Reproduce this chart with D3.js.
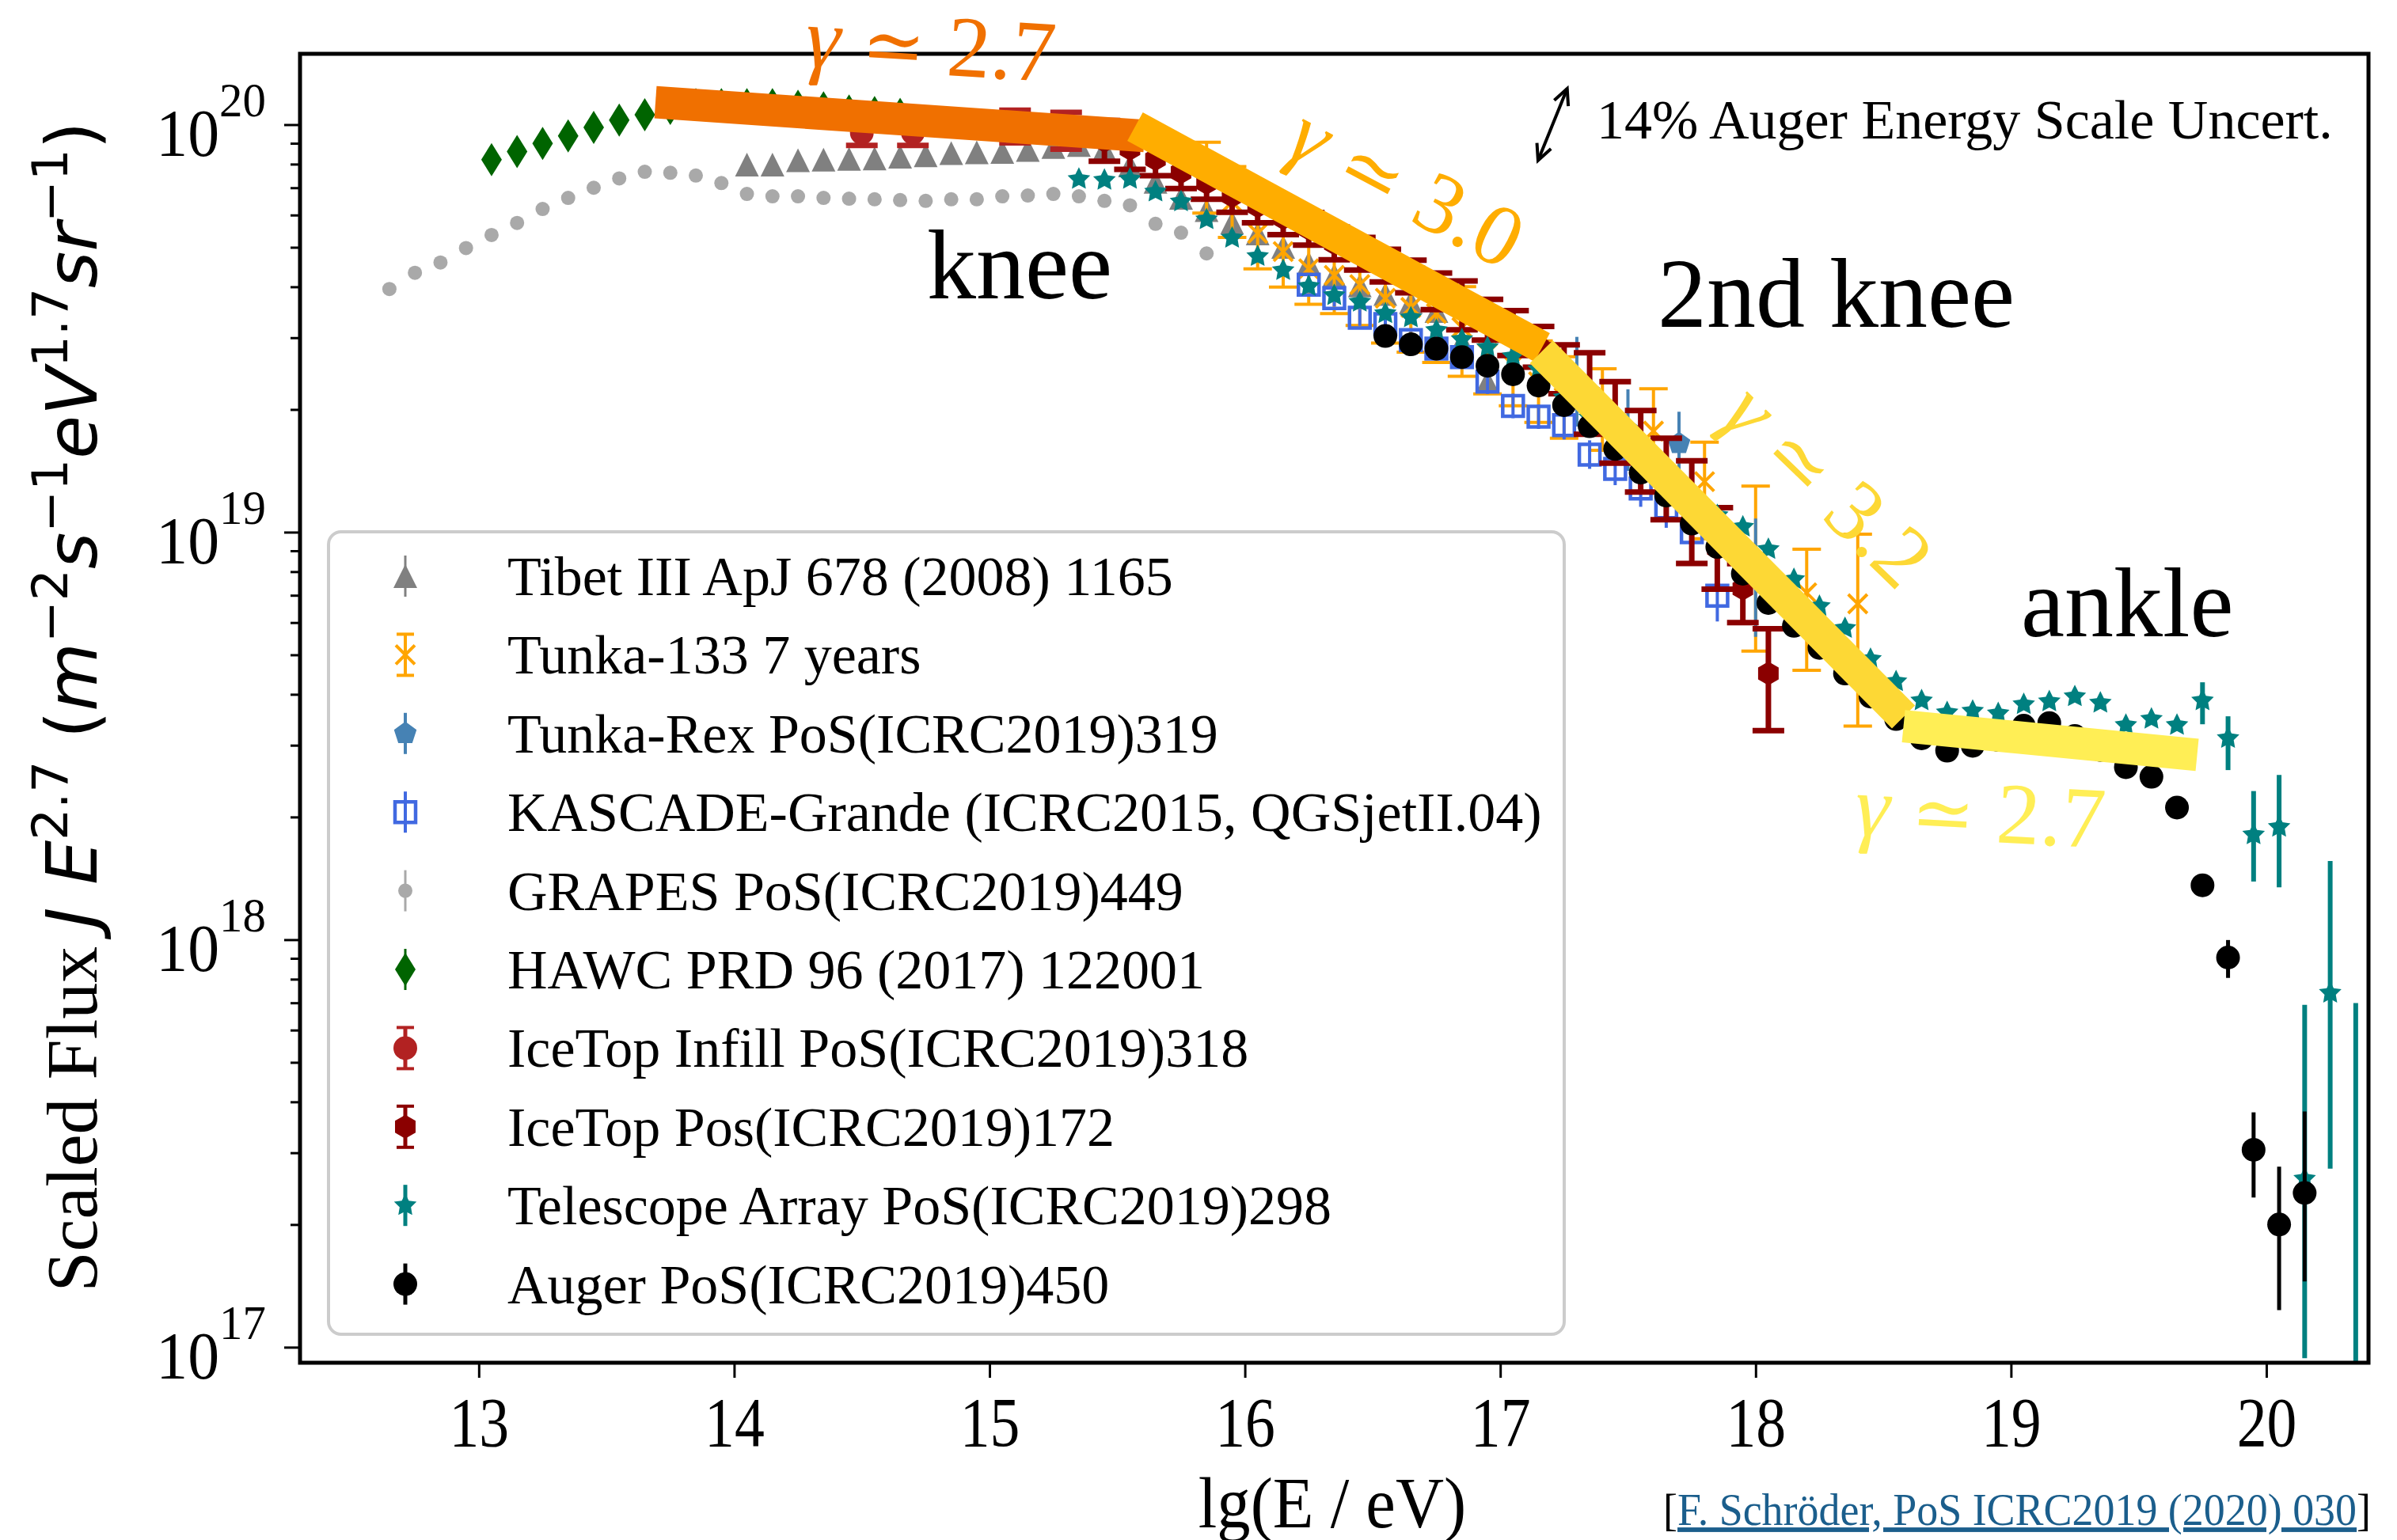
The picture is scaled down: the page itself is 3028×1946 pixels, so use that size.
<!DOCTYPE html>
<html>
<head>
<meta charset="utf-8">
<script src="https://cdn.jsdelivr.net/npm/d3@7"></script>
<style>
  body { margin: 0; background: #fff; }
  svg { display: block; }
</style>
</head>
<body>
<svg id="chart" width="3028" height="1946"></svg>
<script>
// ---- data: lg(E/eV) and scaled flux J E^2.7, errors in dex (down, up) ----
var xTicks = [13, 14, 15, 16, 17, 18, 19, 20];
var yMajor = [1e17, 1e18, 1e19, 1e20];

var tibetE = [14.05,14.15,14.25,14.35,14.45,14.55,14.65,14.75,14.85,14.95,15.05,15.15,15.25,15.35,15.45,15.55,15.65,15.75,15.85,15.95,16.05,16.15,16.25,16.35,16.45,16.55,16.65,16.75,16.85,16.95];
var tibetJ = [7.98e19,7.98e19,8.18e19,8.20e19,8.24e19,8.26e19,8.34e19,8.41e19,8.51e19,8.55e19,8.57e19,8.67e19,8.81e19,8.91e19,8.71e19,7.94e19,7.24e19,6.61e19,6.17e19,5.75e19,5.41e19,5.01e19,4.57e19,4.27e19,4.03e19,3.84e19,3.67e19,3.49e19,2.94e19,2.34e19];

var tunkaE = [15.85,15.95,16.05,16.15,16.25,16.35,16.45,16.55,16.65,16.75,16.85,16.95,17.05,17.15,17.25,17.4,17.6,17.8,18.0,18.2,18.4];
var tunkaJ = [7.41e19,6.46e19,5.41e19,4.88e19,4.43e19,4.27e19,4.05e19,3.75e19,3.56e19,3.44e19,3.18e19,2.75e19,2.57e19,2.34e19,2.14e19,2.00e19,1.77e19,1.33e19,8.09e18,7.10e18,6.67e18];
var tunkaDn = [0.087,0.087,0.087,0.087,0.087,0.094,0.10,0.11,0.11,0.12,0.12,0.10,0.10,0.10,0.10,0.10,0.12,0.14,0.20,0.19,0.30];
var tunkaUp = [0.087,0.087,0.087,0.087,0.087,0.094,0.10,0.10,0.10,0.10,0.10,0.10,0.10,0.10,0.10,0.10,0.104,0.097,0.205,0.107,0.171];

var rexE = [17.3, 17.5, 17.7, 18.0];
var rexJ = [2.34e19, 1.78e19, 1.65e19, 7.73e18];
var rexDn = [0.11, 0.10, 0.09, 0.145];
var rexUp = [0.11, 0.10, 0.078, 0.145];

var kascadeE = [16.25,16.35,16.45,16.55,16.65,16.75,16.85,16.95,17.05,17.15,17.25,17.35,17.45,17.55,17.65,17.75,17.85];
var kascadeJ = [4.05e19,3.75e19,3.36e19,3.24e19,2.96e19,2.82e19,2.69e19,2.34e19,2.04e19,1.92e19,1.83e19,1.55e19,1.43e19,1.28e19,1.15e19,1.00e19,6.98e18];
var kascadeErr = [0.02,0.02,0.02,0.02,0.02,0.025,0.025,0.03,0.03,0.03,0.035,0.035,0.04,0.045,0.05,0.05,0.063];

var grapesE = [12.65,12.75,12.85,12.95,13.05,13.15,13.25,13.35,13.45,13.55,13.65,13.75,13.85,13.95,14.05,14.15,14.25,14.35,14.45,14.55,14.65,14.75,14.85,14.95,15.05,15.15,15.25,15.35,15.45,15.55,15.65,15.75,15.85];
var grapesJ = [3.95e19,4.33e19,4.59e19,4.98e19,5.36e19,5.74e19,6.21e19,6.61e19,7.00e19,7.38e19,7.66e19,7.62e19,7.50e19,7.19e19,6.76e19,6.67e19,6.67e19,6.61e19,6.58e19,6.56e19,6.53e19,6.50e19,6.56e19,6.56e19,6.67e19,6.70e19,6.76e19,6.67e19,6.50e19,6.34e19,5.71e19,5.43e19,4.83e19];

var hawcE = [13.05,13.15,13.25,13.35,13.45,13.55,13.65,13.75,13.85,13.95,14.05,14.15,14.25,14.35,14.45,14.55,14.65];
var hawcJ = [8.20e19,8.59e19,8.99e19,9.38e19,9.84e19,1.026e20,1.057e20,1.096e20,1.12e20,1.12e20,1.12e20,1.12e20,1.11e20,1.10e20,1.08e20,1.07e20,1.06e20];

var infillE = [14.5, 14.7, 15.1, 15.3];
var infillJ = [9.55e19, 9.55e19, 9.89e19, 9.66e19];
var infillErr = [0.031, 0.031, 0.04, 0.045];

var icetopE = [15.45,15.55,15.65,15.75,15.85,15.95,16.05,16.15,16.25,16.35,16.45,16.55,16.65,16.75,16.85,16.95,17.05,17.15,17.25,17.35,17.45,17.55,17.65,17.75,17.85,17.95,18.05];
var icetopJ = [9.12e19,8.71e19,8.22e19,7.64e19,7.19e19,6.68e19,6.30e19,5.89e19,5.55e19,5.11e19,4.82e19,4.51e19,4.24e19,3.90e19,3.60e19,3.32e19,3.08e19,2.85e19,2.51e19,2.19e19,1.86e19,1.58e19,1.35e19,1.12e19,9.12e18,7.26e18,4.50e18];
var icetopDn = [0.05,0.05,0.04,0.04,0.04,0.04,0.04,0.04,0.04,0.04,0.04,0.04,0.04,0.045,0.06,0.05,0.055,0.05,0.06,0.10,0.10,0.10,0.10,0.126,0.10,0.083,0.14];
var icetopUp = [0.05,0.05,0.04,0.04,0.04,0.04,0.04,0.04,0.04,0.04,0.04,0.04,0.04,0.045,0.06,0.05,0.055,0.05,0.06,0.10,0.10,0.10,0.10,0.126,0.10,0.062,0.11];

var taE = [15.35,15.45,15.55,15.65,15.75,15.85,15.95,16.05,16.15,16.25,16.35,16.45,16.55,16.65,16.75,16.85,16.95,17.05,17.15,17.25,17.35,17.45,17.55,17.65,17.75,17.85,17.95,18.05,18.15,18.25,18.35,18.45,18.55,18.65,18.75,18.85,18.95,19.05,19.15,19.25,19.35,19.45,19.55,19.65,19.75,19.85,19.95,20.05,20.15,20.25,20.35];
var taJ = [7.35e19,7.31e19,7.35e19,6.84e19,6.47e19,5.85e19,5.27e19,4.75e19,4.39e19,4.01e19,3.81e19,3.67e19,3.44e19,3.36e19,3.13e19,2.97e19,2.84e19,2.70e19,2.51e19,2.14e19,1.91e19,1.70e19,1.48e19,1.32e19,1.17e19,1.10e19,1.03e19,9.08e18,7.66e18,6.58e18,5.81e18,4.88e18,4.30e18,3.86e18,3.61e18,3.64e18,3.59e18,3.78e18,3.84e18,3.95e18,3.81e18,3.36e18,3.48e18,3.36e18,3.86e18,3.12e18,1.81e18,1.89e18,2.59e17,7.40e17,6.3e16];
var taDn = [0,0,0,0,0,0,0,0,0,0,0,0,0,0,0,0,0,0,0,0,0,0,0,0,0,0,0,0,0,0,0,0,0,0,0,0,0,0,0,0,0,0,0,0,0.058,0.078,0.115,0.148,0.44,0.431,1.0];
var taUp = [0,0,0,0,0,0,0,0,0,0,0,0,0,0,0,0,0,0,0,0,0,0,0,0,0,0,0,0,0,0,0,0,0,0,0,0,0,0,0,0,0,0,0,0,0.045,0.054,0.107,0.128,0.427,0.324,1.045];

var augerE = [16.55,16.65,16.75,16.85,16.95,17.05,17.15,17.25,17.35,17.45,17.55,17.65,17.75,17.85,17.95,18.05,18.15,18.25,18.35,18.45,18.55,18.65,18.75,18.85,18.95,19.05,19.15,19.25,19.35,19.45,19.55,19.65,19.75,19.85,19.95,20.05,20.15];
var augerJ = [3.03e19,2.89e19,2.82e19,2.69e19,2.56e19,2.44e19,2.29e19,2.05e19,1.82e19,1.60e19,1.40e19,1.23e19,1.05e19,9.20e18,7.91e18,6.70e18,5.89e18,5.20e18,4.50e18,3.95e18,3.48e18,3.12e18,2.91e18,2.99e18,3.09e18,3.35e18,3.40e18,3.16e18,2.92e18,2.65e18,2.51e18,2.11e18,1.36e18,9.04e17,3.05e17,2.00e17,2.39e17];
var augerDn = [0,0,0,0,0,0,0,0,0,0,0,0,0,0,0,0,0,0,0,0,0,0,0,0,0,0,0,0,0,0,0,0,0,0.05,0.117,0.21,0.217];
var augerUp = [0,0,0,0,0,0,0,0,0,0,0,0,0,0,0,0,0,0,0,0,0,0,0,0,0,0,0,0,0,0,0,0,0,0.043,0.092,0.142,0.2];

// broken power-law bands drawn on top (lg E, flux at the two ends)
var bandE = [[13.692, 15.607], [15.570, 17.164], [17.161, 18.579], [18.579, 19.729]];
var bandJ = [[1.135e20, 9.38e19], [9.89e19, 2.84e19], [2.77e19, 3.52e18], [3.34e18, 2.84e18]];
var bandColors = ["#f07000", "#ffad00", "#fdd835", "#ffee55"];

// 14% energy scale uncertainty arrow
var arrowE = [17.148, 17.262];
var arrowJ = [8.17e19, 1.225e20];

// ---- layout ----
var W = 3028, H = 1946;
var plotL = 379, plotR = 2992, plotT = 68, plotB = 1722;
var serif = "Liberation Serif, Times New Roman, serif";

var x = d3.scaleLinear().domain([12.30, 20.40]).range([plotL, plotR]);
var y = d3.scaleLog().domain([9.16e16, 1.492e20]).range([plotB, plotT]);

var svg = d3.select("#chart");
svg.append("rect").attr("width", W).attr("height", H).attr("fill", "#fff");

svg.append("clipPath").attr("id", "plotclip")
  .append("rect").attr("x", plotL).attr("y", plotT).attr("width", plotR - plotL).attr("height", plotB - plotT);

// marker shapes
function poly(n, r, rot) {
  var p = [];
  for (var i = 0; i < n; i++) {
    var a = (rot + 360 / n * i) * Math.PI / 180;
    p.push([r * Math.cos(a), r * Math.sin(a)]);
  }
  return "M" + p.join("L") + "Z";
}
function star(r) {
  var p = [];
  for (var i = 0; i < 10; i++) {
    var a = (-90 + 36 * i) * Math.PI / 180, rr = i % 2 ? r * 0.5 : r;
    p.push([rr * Math.cos(a), rr * Math.sin(a)]);
  }
  return "M" + p.join("L") + "Z";
}
var shapes = {
  tri: "M0,-15L15,15L-15,15Z",
  dia: "M0,-21L13,0L0,21L-13,0Z",
  square: "M-13,-13H13V13H-13Z",
  star: star(15),
  pent: poly(5, 15, -90),
  hex: poly(6, 15, -90),
  cross: "M-12,-12L12,12M12,-12L-12,12",
  circle: null
};

function pts(E, J, dn, up) {
  return E.map(function(e, i) {
    var d = dn == null ? 0 : (typeof dn === "number" ? dn : dn[i]);
    var u = up == null ? d : (typeof up === "number" ? up : up[i]);
    return {e: e, j: J[i], dn: d, up: u};
  });
}

var series = [
  {label: "Tibet III ApJ 678 (2008) 1165", data: pts(tibetE, tibetJ), color: "#808080", shape: "tri", lw: 3, cap: 0},
  {label: "Tunka-133 7 years", data: pts(tunkaE, tunkaJ, tunkaDn, tunkaUp), color: "#ffa500", shape: "cross", lw: 4, cap: 18},
  {label: "Tunka-Rex PoS(ICRC2019)319", data: pts(rexE, rexJ, rexDn, rexUp), color: "#4682b4", shape: "pent", lw: 4, cap: 0},
  {label: "KASCADE-Grande (ICRC2015, QGSjetII.04)", data: pts(kascadeE, kascadeJ, kascadeErr), color: "#4169e1", shape: "square", open: true, lw: 4, cap: 0},
  {label: "GRAPES PoS(ICRC2019)449", data: pts(grapesE, grapesJ), color: "#a9a9a9", shape: "circle", r: 9, lw: 3, cap: 0},
  {label: "HAWC PRD 96 (2017) 122001", data: pts(hawcE, hawcJ), color: "#006400", shape: "dia", lw: 3, cap: 0},
  {label: "IceTop Infill PoS(ICRC2019)318", data: pts(infillE, infillJ, infillErr), color: "#b22222", shape: "circle", r: 15, lw: 7, cap: 20},
  {label: "IceTop Pos(ICRC2019)172", data: pts(icetopE, icetopJ, icetopDn, icetopUp), color: "#8b0000", shape: "hex", lw: 7, cap: 20},
  {label: "Telescope Array PoS(ICRC2019)298", data: pts(taE, taJ, taDn, taUp), color: "#008080", shape: "star", lw: 6, cap: 0},
  {label: "Auger PoS(ICRC2019)450", data: pts(augerE, augerJ, augerDn, augerUp), color: "#000000", shape: "circle", r: 15, lw: 5, cap: 0}
];

function drawMarker(g, s) {
  if (s.shape === "circle") {
    g.append("circle").attr("r", s.r).attr("fill", s.color);
  } else if (s.shape === "cross") {
    g.append("path").attr("d", shapes.cross).attr("stroke", s.color).attr("stroke-width", 4).attr("fill", "none");
  } else if (s.open) {
    g.append("path").attr("d", shapes[s.shape]).attr("fill", "none").attr("stroke", s.color).attr("stroke-width", 4.5);
  } else {
    g.append("path").attr("d", shapes[s.shape]).attr("fill", s.color);
  }
}

// ---- axes ----
var gx = svg.append("g").attr("transform", "translate(0," + plotB + ")")
  .call(d3.axisBottom(x).tickValues(xTicks).tickSize(19).tickFormat(d3.format("d")));
gx.select(".domain").remove();
gx.selectAll(".tick line").attr("stroke", "#000").attr("stroke-width", 3);
gx.selectAll(".tick text")
  .attr("y", 105).attr("dy", null)
  .attr("font-family", serif).attr("font-size", 88).attr("fill", "#000")
  .attr("transform", "scale(0.86,1)");

function isDecade(v) {
  var l = Math.log10(v);
  return Math.abs(l - Math.round(l)) < 1e-6;
}
var yMinor = y.ticks().filter(function(v) { return !isDecade(v); });

var gyMinor = svg.append("g").attr("transform", "translate(" + plotL + ",0)")
  .call(d3.axisLeft(y).tickValues(yMinor).tickSize(12).tickFormat(""));
gyMinor.select(".domain").remove();
gyMinor.selectAll(".tick line").attr("stroke", "#000").attr("stroke-width", 3);

var gyMajor = svg.append("g").attr("transform", "translate(" + plotL + ",0)")
  .call(d3.axisLeft(y).tickValues(yMajor).tickSize(20).tickFormat(""));
gyMajor.select(".domain").remove();
gyMajor.selectAll(".tick line").attr("stroke", "#000").attr("stroke-width", 3);

yMajor.forEach(function(v) {
  var t = svg.append("text")
    .attr("transform", "translate(336," + y(v) + ") scale(0.95,1)")
    .attr("text-anchor", "end").attr("font-family", serif).attr("fill", "#000");
  t.append("tspan").attr("font-size", 84).attr("dy", 40).text("10");
  t.append("tspan").attr("font-size", 62).attr("dy", -50).text(Math.round(Math.log10(v)));
});

// y label: serif words + mathtext-like part
var yl = svg.append("text")
  .attr("transform", "translate(122,893) rotate(-90)")
  .attr("text-anchor", "middle").attr("fill", "#000").attr("font-size", 89);
yl.append("tspan").attr("font-family", serif).attr("font-size", 92).text("Scaled Flux ");
var mathParts = [
  ["J E", "italic", 0], ["2.7", "normal", 1], [" (", "normal", 0], ["m", "italic", 0],
  ["\u22122", "normal", 1], ["s", "italic", 0], ["\u22121", "normal", 1], ["eV", "italic", 0],
  ["1.7", "normal", 1], ["sr", "italic", 0], ["\u22121", "normal", 1], [")", "normal", 0]
];
var lift = 0;
mathParts.forEach(function(p) {
  var target = p[2] ? -37 : 0;
  yl.append("tspan")
    .attr("font-family", "DejaVu Sans, sans-serif")
    .attr("font-style", p[1])
    .attr("font-size", p[2] ? 63 : 89)
    .attr("dy", target - lift)
    .text(p[0]);
  lift = target;
});

svg.append("text").attr("x", 1683).attr("y", 1930)
  .attr("text-anchor", "middle").attr("font-family", serif).attr("font-size", 92)
  .attr("transform", "translate(1683,0) scale(0.92,1) translate(-1683,0)")
  .text("lg(E / eV)");

// ---- data ----
var plot = svg.append("g").attr("clip-path", "url(#plotclip)");
series.forEach(function(s) {
  var g = plot.append("g");
  s.data.forEach(function(d) {
    if (d.dn > 0 || d.up > 0) {
      var y0 = y(d.j / Math.pow(10, d.dn)), y1 = y(d.j * Math.pow(10, d.up));
      g.append("line").attr("x1", x(d.e)).attr("x2", x(d.e)).attr("y1", y0).attr("y2", y1)
        .attr("stroke", s.color).attr("stroke-width", s.lw);
      if (s.cap) {
        [y0, y1].forEach(function(yy) {
          g.append("line").attr("x1", x(d.e) - s.cap).attr("x2", x(d.e) + s.cap)
            .attr("y1", yy).attr("y2", yy).attr("stroke", s.color).attr("stroke-width", s.lw);
        });
      }
    }
  });
  s.data.forEach(function(d) {
    var m = g.append("g").attr("transform", "translate(" + x(d.e) + "," + y(d.j) + ")");
    drawMarker(m, s);
  });
});

// frame
svg.append("rect").attr("x", plotL).attr("y", plotT).attr("width", plotR - plotL).attr("height", plotB - plotT)
  .attr("fill", "none").attr("stroke", "#000").attr("stroke-width", 5);

// ---- spectral index bands ----
bandE.forEach(function(e, i) {
  svg.append("line")
    .attr("x1", x(e[0])).attr("y1", y(bandJ[i][0]))
    .attr("x2", x(e[1])).attr("y2", y(bandJ[i][1]))
    .attr("stroke", bandColors[i]).attr("stroke-width", 41).attr("stroke-linecap", "butt");
});

function gammaText(transform, anchor, color, value) {
  var t = svg.append("text").attr("transform", transform).attr("text-anchor", anchor)
    .attr("font-family", serif).attr("font-size", 110).attr("fill", color);
  t.append("tspan").attr("font-style", "italic").text("\u03b3 ");
  t.append("tspan").attr("font-family", "DejaVu Serif, serif").attr("font-size", 96).text("\u2243");
  t.append("tspan").text(" " + value);
}
gammaText("translate(1016,84) rotate(3.5)", "start", "#f07000", "2.7");
gammaText("translate(1760,268) rotate(28)", "middle", "#ffad00", "3.0");
gammaText("translate(2284,639) rotate(44)", "middle", "#fdd835", "3.2");
gammaText("translate(2342,1055) rotate(3)", "start", "#ffee55", "2.7");

[["knee", 1171, 377], ["2nd knee", 2094, 413], ["ankle", 2553, 804]].forEach(function(a) {
  svg.append("text").attr("x", a[1]).attr("y", a[2]).attr("font-family", serif)
    .attr("font-size", 124).attr("fill", "#000").text(a[0]);
});

// energy-scale arrow
var ax0 = x(arrowE[0]), ay0 = y(arrowJ[0]), ax1 = x(arrowE[1]), ay1 = y(arrowJ[1]);
svg.append("line").attr("x1", ax0).attr("y1", ay0).attr("x2", ax1).attr("y2", ay1)
  .attr("stroke", "#000").attr("stroke-width", 4);
function head(px, py, qx, qy) {
  var ang = Math.atan2(py - qy, px - qx), L = 22, spread = 0.45;
  var d = "M" + (px - L * Math.cos(ang - spread)) + "," + (py - L * Math.sin(ang - spread)) +
    "L" + px + "," + py +
    "L" + (px - L * Math.cos(ang + spread)) + "," + (py - L * Math.sin(ang + spread));
  svg.append("path").attr("d", d).attr("fill", "none").attr("stroke", "#000").attr("stroke-width", 4);
}
head(ax1, ay1, ax0, ay0);
head(ax0, ay0, ax1, ay1);
svg.append("text").attr("x", 2017).attr("y", 175).attr("font-family", serif)
  .attr("font-size", 70).attr("fill", "#000").text("14% Auger Energy Scale Uncert.");

// ---- legend ----
var lg = svg.append("g");
lg.append("rect").attr("x", 415).attr("y", 672).attr("width", 1561).attr("height", 1014).attr("rx", 16)
  .attr("fill", "#fff").attr("fill-opacity", 0.8).attr("stroke", "#cccccc").attr("stroke-width", 4);
series.forEach(function(s, i) {
  var cy = 728 + i * 99.4;
  var g = lg.append("g").attr("transform", "translate(512," + cy + ")");
  g.append("line").attr("x1", 0).attr("x2", 0).attr("y1", -26).attr("y2", 26)
    .attr("stroke", s.color).attr("stroke-width", Math.min(s.lw, 5));
  if (s.cap) {
    [-26, 26].forEach(function(yy) {
      g.append("line").attr("x1", -11).attr("x2", 11).attr("y1", yy).attr("y2", yy)
        .attr("stroke", s.color).attr("stroke-width", 4);
    });
  }
  drawMarker(g, s);
  lg.append("text").attr("x", 641).attr("y", cy + 24).attr("font-family", serif)
    .attr("font-size", 70).attr("fill", "#000").text(s.label);
});

// ---- citation ----
var cite = svg.append("text")
  .attr("transform", "translate(2995,1927) scale(0.93,1)")
  .attr("text-anchor", "end").attr("font-family", serif).attr("font-size", 58);
cite.append("tspan").attr("fill", "#000").text("[");
cite.append("tspan").attr("fill", "#1b5e8c").attr("text-decoration", "underline")
  .text("F. Schr\u00f6der, PoS ICRC2019 (2020) 030");
cite.append("tspan").attr("fill", "#000").text("]");
</script>
</body>
</html>
